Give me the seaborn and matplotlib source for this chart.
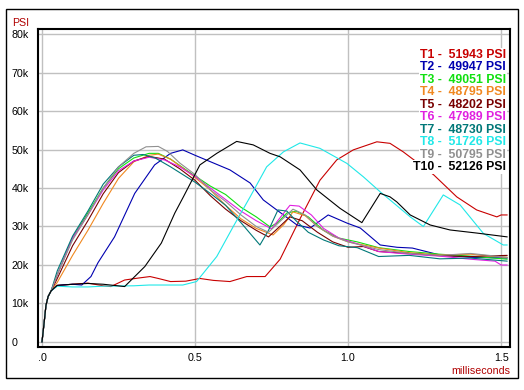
import pandas as pd
import seaborn as sns
import matplotlib.pyplot as plt
from matplotlib.patches import Rectangle

# ---- data (time in ms, pressure in kPSI) ----
start_t = [0, 0.007, 0.013, 0.02, 0.03]
start_p = [0, 5, 9.5, 11.8, 13.3]

t1_t = start_t + [0.05, 0.1, 0.15, 0.2, 0.225, 0.27, 0.314, 0.353, 0.38, 0.42, 0.47, 0.516, 0.56, 0.614, 0.669, 0.729, 0.778, 0.843, 0.908, 0.963, 1.017, 1.094, 1.137, 1.18, 1.28, 1.355, 1.42, 1.486, 1.5, 1.52]
t1_p = start_p + [14.7, 15.0, 15.3, 14.6, 14.4, 16.1, 16.6, 17.0, 16.5, 15.7, 15.8, 16.5, 16.0, 15.7, 17.0, 17.0, 21.5, 32.0, 42.0, 47.3, 49.9, 52.0, 51.6, 49.4, 43.4, 37.7, 34.3, 32.5, 33.0, 33.0]

t2_t = start_t + [0.05, 0.1, 0.13, 0.16, 0.183, 0.237, 0.303, 0.368, 0.42, 0.46, 0.5, 0.56, 0.614, 0.68, 0.723, 0.767, 0.833, 0.876, 0.935, 0.996, 1.04, 1.105, 1.16, 1.21, 1.3, 1.4, 1.52]
t2_p = start_p + [14.7, 15.0, 14.8, 17.0, 20.6, 27.3, 38.6, 46.0, 49.0, 49.9, 48.5, 46.5, 44.7, 41.3, 36.9, 34.3, 30.4, 29.6, 33.0, 30.9, 29.6, 25.2, 24.6, 24.4, 22.6, 22.0, 21.8]

t3_t = start_t + [0.05, 0.1, 0.15, 0.2, 0.25, 0.3, 0.35, 0.38, 0.42, 0.48, 0.55, 0.6, 0.65, 0.7, 0.745, 0.77, 0.8, 0.83, 0.87, 0.92, 0.97, 1.03, 1.1, 1.2, 1.3, 1.4, 1.52]
t3_p = start_p + [17.5, 27.0, 33.5, 40.0, 45.0, 47.8, 49.0, 49.0, 47.5, 44.2, 40.5, 38.3, 35.0, 32.5, 29.9, 31.0, 33.5, 34.0, 32.5, 29.0, 27.0, 26.0, 24.5, 23.5, 22.8, 22.3, 21.5]

t4_t = start_t + [0.05, 0.1, 0.15, 0.2, 0.25, 0.3, 0.35, 0.38, 0.42, 0.48, 0.55, 0.6, 0.65, 0.7, 0.755, 0.79, 0.82, 0.86, 0.9, 0.95, 1.0, 1.1, 1.2, 1.3, 1.4, 1.52]
t4_p = start_p + [15.5, 22.5, 29.0, 36.0, 42.5, 46.8, 48.5, 48.8, 47.5, 44.0, 39.5, 35.5, 32.0, 29.5, 27.8, 30.5, 33.8, 32.8, 30.0, 27.5, 26.0, 24.4, 23.2, 22.6, 22.8, 22.0]

t5_t = start_t + [0.05, 0.1, 0.15, 0.2, 0.25, 0.3, 0.35, 0.4, 0.45, 0.5, 0.55, 0.6, 0.65, 0.7, 0.74, 0.77, 0.81, 0.85, 0.9, 0.95, 1.0, 1.05, 1.1, 1.2, 1.3, 1.4, 1.52]
t5_p = start_p + [16.5, 25.0, 31.5, 38.5, 44.0, 47.0, 48.2, 47.5, 45.0, 42.0, 38.0, 34.5, 31.5, 29.0, 27.3, 29.5, 32.5, 31.5, 28.5, 26.0, 24.6, 24.8, 23.5, 23.0, 22.4, 22.2, 22.5]

t6_t = start_t + [0.05, 0.1, 0.15, 0.2, 0.25, 0.3, 0.35, 0.4, 0.45, 0.5, 0.55, 0.6, 0.65, 0.7, 0.75, 0.78, 0.81, 0.84, 0.88, 0.92, 0.97, 1.03, 1.1, 1.2, 1.3, 1.4, 1.48, 1.5, 1.52]
t6_p = start_p + [17.5, 27.0, 33.0, 39.5, 44.5, 47.0, 48.0, 47.3, 45.5, 43.0, 40.0, 37.0, 34.0, 31.5, 29.4, 32.5, 35.5, 35.3, 33.0, 29.5, 27.0, 25.5, 23.5, 22.8, 22.3, 21.5, 21.0, 20.0, 20.0]

t7_t = start_t + [0.05, 0.1, 0.15, 0.2, 0.25, 0.3, 0.33, 0.37, 0.42, 0.5, 0.56, 0.6, 0.65, 0.712, 0.74, 0.771, 0.8, 0.83, 0.87, 0.92, 0.97, 1.03, 1.1, 1.2, 1.3, 1.4, 1.52]
t7_p = start_p + [18.5, 27.5, 34.0, 41.0, 45.5, 48.5, 48.7, 47.8, 45.5, 41.5, 38.0, 35.5, 31.0, 25.2, 29.0, 34.3, 34.0, 31.5, 28.5, 26.5, 25.0, 24.5, 22.2, 22.5, 21.6, 21.8, 21.0]

t8_t = start_t + [0.05, 0.1, 0.15, 0.2, 0.3, 0.35, 0.46, 0.505, 0.571, 0.625, 0.68, 0.734, 0.789, 0.843, 0.908, 0.996, 1.05, 1.105, 1.137, 1.203, 1.246, 1.311, 1.366, 1.442, 1.507, 1.52]
t8_p = start_p + [14.5, 14.3, 14.3, 14.5, 14.6, 14.8, 14.8, 15.7, 22.2, 30.0, 37.7, 45.5, 49.4, 51.7, 50.3, 46.4, 42.9, 39.0, 36.9, 32.5, 30.0, 38.2, 35.6, 28.2, 25.2, 25.2]

t9_t = start_t + [0.05, 0.1, 0.15, 0.2, 0.25, 0.3, 0.34, 0.38, 0.41, 0.45, 0.5, 0.55, 0.6, 0.65, 0.7, 0.74, 0.78, 0.82, 0.86, 0.9, 0.95, 1.0, 1.1, 1.2, 1.3, 1.4, 1.52]
t9_p = start_p + [17.5, 26.5, 33.0, 40.0, 45.5, 49.0, 50.7, 50.8, 49.5, 46.5, 43.5, 39.5, 36.5, 33.0, 30.0, 28.5, 31.5, 34.5, 33.0, 30.0, 27.5, 26.0, 24.0, 23.0, 22.5, 23.0, 22.0]

t10_t = start_t + [0.05, 0.1, 0.15, 0.2, 0.27, 0.336, 0.39, 0.434, 0.462, 0.516, 0.571, 0.636, 0.69, 0.745, 0.778, 0.843, 0.898, 0.974, 1.045, 1.105, 1.137, 1.159, 1.203, 1.268, 1.333, 1.42, 1.52]
t10_p = start_p + [14.7, 15.0, 15.2, 15.0, 14.4, 19.6, 25.7, 33.5, 37.7, 46.0, 49.0, 52.1, 51.2, 49.0, 48.1, 44.7, 39.5, 34.7, 31.0, 38.6, 37.7, 36.4, 33.0, 30.4, 29.1, 28.3, 27.3]

names = ["T1", "T2", "T3", "T4", "T5", "T6", "T7", "T8", "T9", "T10"]
peaks = [51943, 49947, 49051, 48795, 48202, 47989, 48730, 51726, 50795, 52126]
colors = ["#c80000", "#0000b0", "#10e010", "#f08820", "#780000",
          "#e020e0", "#007878", "#20e8e8", "#909090", "#000000"]

series = [(t1_t, t1_p), (t2_t, t2_p), (t3_t, t3_p), (t4_t, t4_p), (t5_t, t5_p),
          (t6_t, t6_p), (t7_t, t7_p), (t8_t, t8_p), (t9_t, t9_p), (t10_t, t10_p)]

rows = []
for name, (ts, ps) in zip(names, series):
    for t, p in zip(ts, ps):
        rows.append({"ms": t, "kpsi": p, "trace": name})
df = pd.DataFrame(rows)

sns.set_style("white")
plt.rcParams["font.family"] = ["Liberation Sans", "DejaVu Sans"]

fig = plt.figure(figsize=(5.24, 3.9), dpi=100)
W, H = 524, 390
ax = fig.add_axes([38 / W, 1 - 347 / H, (510 - 38) / W, (347 - 29) / H])

sns.lineplot(data=df, x="ms", y="kpsi", hue="trace", hue_order=names,
             palette=dict(zip(names, colors)), estimator=None, sort=False,
             linewidth=0.8, legend=False, ax=ax)

ax.set_xlim(-0.013, 1.529)
ax.set_ylim(-1.3, 81.3)
ax.set_xticks([0, 0.5, 1.0, 1.5])
ax.set_xticklabels([".0", "0.5", "1.0", "1.5"])
ax.set_yticks(range(0, 81, 10))
ax.set_yticklabels(["0"] + [f"{v}k" for v in range(10, 81, 10)])
for lab in ax.get_yticklabels():
    lab.set_horizontalalignment("left")
ax.tick_params(axis="y", length=0, pad=19, labelsize=7.7, colors="black")
ax.tick_params(axis="x", length=0, pad=4, labelsize=7.7, colors="black")
ax.grid(True, color="#c0c0c0", linewidth=1)
ax.set_axisbelow(True)
ax.set_xlabel("")
ax.set_ylabel("")
for sp in ax.spines.values():
    sp.set_color("black")
    sp.set_linewidth(1.5)

# legend block, right aligned with white background
for i, (name, pk, col) in enumerate(zip(names, peaks, colors)):
    y = 55 + i * 12.45
    fig.text(506 / W, 1 - y / H, f"{name} -  {pk} PSI", color=col,
             fontsize=8.8, fontweight="bold", ha="right", va="center",
             bbox=dict(facecolor="white", edgecolor="none", pad=0.6))

fig.text(12 / W, 1 - 22.5 / H, "PSI", color="#b00000", fontsize=7.7, va="center")
fig.text(510 / W, 1 - 370.5 / H, "milliseconds", color="#b00000", fontsize=7.7,
         ha="right", va="center")

fig.patches.append(Rectangle((5.5 / W, 1 - 377.5 / H), (518 - 5.5) / W, (377.5 - 9) / H,
                             transform=fig.transFigure, fill=False,
                             edgecolor="black", linewidth=1.0))

fig.savefig("out.png", dpi=100)
